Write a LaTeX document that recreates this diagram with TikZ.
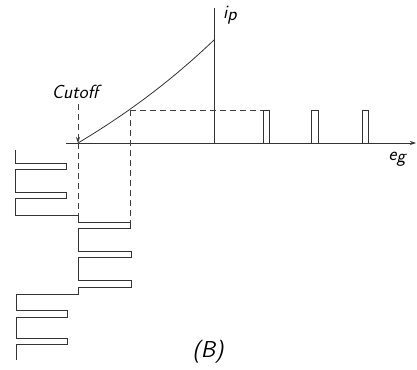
\documentclass[tikz,border=0pt]{standalone}
\usetikzlibrary{arrows.meta}
\begin{document}
\begin{tikzpicture}[
    x=1pt, y=-1pt,
    curveline/.style={line width=0.8pt, black!80},
    axisline/.style={line width=0.8pt, black!80},
    guideline/.style={line width=0.7pt, black!75, dash pattern=on 6pt off 4pt},
    wave/.style={line width=0.8pt, black!80, line join=miter},
    lbl/.style={font=\fontsize{19}{21}\selectfont\sffamily\slshape, inner sep=0pt},
    biglbl/.style={font=\fontsize{23}{25}\selectfont\sffamily\slshape, inner sep=0pt},
    tip/.style={-{Stealth[length=6pt, width=4pt]}}
]
\useasboundingbox (0,0) rectangle (417,369);

% Key points
\coordinate (co)   at (78,143);
\coordinate (mid)  at (130,110);
\coordinate (pk)   at (214,40);
\coordinate (org)  at (214,143);
\coordinate (ytop) at (214,8);
\coordinate (xl)   at (66,143);
\coordinate (xr)   at (416,143);

% Axes
\draw[axisline] (org) -- (ytop);
\draw[axisline, tip] (xl) -- (xr);

% Characteristic curve
\draw[curveline] (co) .. controls (125,115) and (170,82) .. (pk);

% Labels
\node[lbl] (cutlbl) at (75,92) {Cutoff};
\node[lbl, anchor=west] (iplbl) at (223,15) {i\raisebox{-0.3ex}{p}};
\node[lbl] (eglbl) at (397,159) {e\raisebox{-0.3ex}{g}};
\node[biglbl] (blbl) at (208,352) {(B)};

% Cutoff arrow and projections
\draw[guideline, tip] (78,104) -- (co);
\draw[guideline] (co) -- (78,215);
\draw[guideline] (mid) -- (130,222);
\draw[guideline] (mid) -- (263,110);

% Plate current pulses
\draw[wave] (263,143) -- (263,110) -- (269,110) -- (269,143);
\draw[wave] (311,143) -- (311,110) -- (318,110) -- (318,143);
\draw[wave] (362,143) -- (362,110) -- (368,110) -- (368,143);

% Grid voltage wave
\draw[wave] (15,150) -- (15,163) -- (66,163) -- (66,169) -- (15,169)
    -- (15,192) -- (66,192) -- (66,198) -- (15,198)
    -- (15,215) -- (78,215)
    -- (78,222) -- (130,222) -- (130,228) -- (78,228)
    -- (78,251) -- (131,251) -- (131,257) -- (78,257)
    -- (78,280) -- (131,280) -- (131,287) -- (78,287)
    -- (78,294) -- (16,294)
    -- (16,310) -- (67,310) -- (67,317) -- (16,317)
    -- (16,338) -- (67,338) -- (67,344) -- (16,344)
    -- (16,360);

\end{tikzpicture}
\end{document}
